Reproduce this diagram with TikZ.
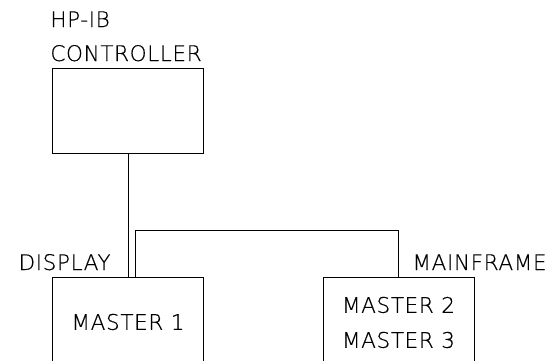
\documentclass[tikz,border=0pt]{standalone}
\usepackage{fontspec}
\setmainfont{DejaVu Sans}[UprightFont=* ExtraLight, LetterSpace=3, FakeBold=0.4]
\usepackage{tikz}

\begin{document}
\begin{tikzpicture}[x=1pt,y=-1pt,line width=0.8pt,
    unit/.style={draw,minimum width=151pt,inner sep=0pt,align=center},
    tag/.style={font=\fontsize{21.5}{35}\selectfont,inner sep=0pt}]
    \useasboundingbox (0,0) rectangle (550,360);
    \clip (0,0) rectangle (550,360);
    \node[unit,minimum height=85pt] (ctrl) at (128,110.5) {};
    \node[unit,minimum height=90pt,anchor=north] (mast1) at (128,277) {};
    \node[unit,minimum height=90pt,anchor=north] (mast2) at (398.5,277) {};
    \node[tag,anchor=base west] (hpib) at (50,27) {HP-IB};
    \node[tag,anchor=base west] (ctrltxt) at (50,61) {CONTROLLER};
    \node[tag,anchor=base east] (disp) at (111,270) {DISPLAY};
    \node[tag,anchor=base east] (mframe) at (547,270) {MAINFRAME};
    \node[tag] (m1txt) at (128,322) {MASTER 1};
    \node[tag,align=center] (m23txt) at (398.5,322.5) {MASTER 2\\MASTER 3};
    \draw (ctrl.south) -- (mast1.north);
    \coordinate (bus) at (135,230);
    \draw (mast1.north -| bus) -- (bus) -| (mast2.north);
\end{tikzpicture}
\end{document}
